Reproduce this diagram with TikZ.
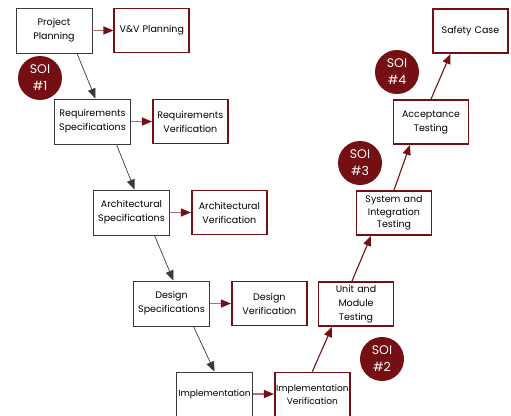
\documentclass[tikz,border=0pt]{standalone}
\usepackage{fontspec}
\setmainfont{Poppins}
\usepackage{xcolor}
\usepackage{tikz}
\usetikzlibrary{shapes,arrows.meta,positioning,calc}

\definecolor{soired}{HTML}{741013}
\definecolor{linkred}{HTML}{B07074}
\definecolor{specgray}{HTML}{3A3A3A}

\begin{document}
\begin{tikzpicture}[
    x=1pt, y=-1pt,
    node distance=21pt,
    spec/.style={rectangle, draw=specgray, line width=0.9pt, fill=white, text width=74pt, align=center, minimum width=76pt, minimum height=45pt, inner sep=0.5pt, font=\fontsize{9.5}{14}\selectfont},
    verif/.style={spec, draw=soired, line width=1.8pt, minimum width=75pt, minimum height=44pt},
    soi/.style={circle, fill=soired, text=white, minimum size=44pt, inner sep=0pt, align=center, font=\fontsize{12.5}{17}\selectfont},
    down/.style={-{Triangle[length=10pt,width=8pt]}, specgray, line width=0.7pt},
    up/.style={-{Triangle[length=10pt,width=8pt]}, soired, line width=1.1pt},
    link/.style={-{Triangle[length=10pt,width=8pt,color=soired]}, linkred, line width=1.1pt}
]
\useasboundingbox (0,0) rectangle (511,415);
\clip (0,0) rectangle (511,415);

% left leg
\node[spec] (plan) at (54,30.5) {Project\\Planning};
\node[spec] (reqspec) at (92.5,121.5) {Requirements\\Specifications};
\node[spec] (archspec) at (131.5,212.5) {Architectural\\Specifications};
\node[spec] (desspec) at (171.5,303.5) {Design\\Specifications};
\node[spec, font=\fontsize{9}{13}\selectfont] (impl) at (214.5,394.5) {Implementation};

% verification boxes
\node[verif, right=of plan] (vvplan) {V\&V Planning};
\node[verif, right=of reqspec] (reqver) {Requirements\\Verification};
\node[verif, right=of archspec] (archver) {Architectural\\Verification};
\node[verif, right=of desspec] (desver) {Design\\Verification};
\node[verif, right=of impl, font=\fontsize{9}{13}\selectfont] (implver) {Implementation\\Verification};

% right leg
\node[verif] (unit) at (356,304) {Unit and\\Module\\Testing};
\node[verif, font=\fontsize{9.5}{12.5}\selectfont] (sysint) at (394,213) {System and\\Integration\\Testing};
\node[verif] (accept) at (431,122) {Acceptance\\Testing};
\node[verif] (safety) at (470.5,31) {Safety Case};

% stages of involvement
\node[soi] (soi1) at (40,78) {SOI\\\#1};
\node[soi] (soi2) at (382,359) {SOI\\\#2};
\node[soi] (soi3) at (360,163) {SOI\\\#3};
\node[soi] (soi4) at (397,72) {SOI\\\#4};

\draw[down] ([xshift=23pt]plan.south) -- ([xshift=3pt]reqspec.north);
\draw[down] ([xshift=24pt]reqspec.south) -- ([xshift=3pt]archspec.north);
\draw[down] ([xshift=23pt]archspec.south) -- ([xshift=2pt]desspec.north);
\draw[down] ([xshift=22pt]desspec.south) -- (impl.north);

\draw[link] (plan) -- (vvplan);
\draw[link] (reqspec) -- (reqver);
\draw[link] (archspec) -- (archver);
\draw[link] (desspec) -- (desver);
\draw[link] (impl.east |- 0,394) -- (implver.west |- 0,394);

\draw[up] (implver.north) -- ([xshift=-24pt]unit.south);
\draw[up] ([xshift=-4pt]unit.north) -- ([xshift=-23pt]sysint.south);
\draw[up] (sysint.north) -- ([xshift=-21pt]accept.south);
\draw[up] (accept.north) -- ([xshift=-20pt]safety.south);

\end{tikzpicture}
\end{document}
